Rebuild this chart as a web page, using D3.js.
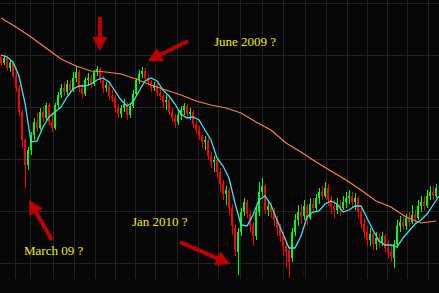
<!DOCTYPE html>
<html>
<head>
<meta charset="utf-8">
<script src="https://cdn.jsdelivr.net/npm/d3@7"></script>
<style>
body {margin:0; background:#000;}
</style>
</head>
<body>
<div class="chart"></div>
<script>
// daily candles, price in chart units
const openP = [243,237,242,232,237,224,212,188,160,135,
    150,165,178,172,188,182,195,178,172,195,
    205,212,208,216,210,222,228,212,206,220,
    222,216,228,231,220,212,215,204,202,192,
    186,192,196,185,194,206,220,226,229,222,
    218,212,215,207,204,198,200,188,182,178,
    185,190,194,186,188,176,170,164,158,160,
    144,138,140,128,116,106,110,92,72,48,
    68,88,98,86,74,64,88,108,114,90,
    94,88,80,72,64,54,50,42,68,80,
    88,84,94,82,96,92,102,108,104,112,
    100,94,90,96,92,98,102,104,98,102,
    88,76,68,60,66,56,62,58,64,52,
    48,42,56,74,78,74,82,78,85,82,
    94,98,94,104,108,104];
const closeP = [237,242,232,237,224,212,188,160,135,150,
    165,178,172,188,182,195,178,172,195,205,
    212,208,216,210,222,228,212,206,220,222,
    216,228,231,220,212,215,204,202,192,186,
    192,196,185,194,206,220,226,229,222,218,
    212,215,207,204,198,200,188,182,178,185,
    190,194,186,188,176,170,164,158,160,144,
    138,140,128,116,106,110,92,74,50,68,
    88,98,86,74,64,88,108,114,90,94,
    88,80,72,64,54,48,38,68,80,88,
    84,94,82,96,92,102,108,104,112,100,
    94,90,96,92,98,102,104,98,102,88,
    76,68,60,66,56,62,58,64,52,48,
    44,56,74,78,74,82,78,85,82,94,
    98,94,104,108,104,112];
const highP = [245,245,244,240,238,228,215,190,162,153,
    168,182,187,192,194,197,197,188,197,208,
    216,218,220,220,228,234,230,216,223,227,
    225,230,234,233,224,218,216,210,205,196,
    195,201,198,197,210,222,230,233,232,226,
    220,218,217,212,206,205,202,192,186,190,
    194,197,196,192,190,180,174,166,164,162,
    148,144,142,132,120,114,112,96,76,72,
    92,102,100,90,78,94,118,122,116,100,
    98,92,84,76,68,58,54,72,86,95,
    96,100,96,102,102,106,112,114,118,116,
    104,100,102,100,104,108,110,108,107,104,
    92,82,74,72,70,68,67,68,66,60,
    56,60,80,84,83,86,88,95,90,100,
    104,104,110,114,114,116];
const lowP = [234,235,230,228,222,208,184,152,112,130,
    145,160,168,170,178,180,174,168,170,192,
    202,204,205,206,208,218,208,202,204,214,
    212,214,224,217,207,208,200,198,188,182,
    182,188,180,182,192,204,216,222,220,214,
    208,209,204,200,192,190,185,178,172,175,
    180,185,182,180,172,166,160,152,150,140,
    132,128,122,108,100,95,85,65,44,25,
    64,84,82,68,54,60,84,104,86,84,
    82,74,64,58,44,32,22,38,64,74,
    76,80,74,80,86,88,96,100,102,94,
    86,82,86,84,90,92,96,92,90,82,
    72,62,54,54,50,50,52,54,48,42,
    38,32,52,68,70,70,74,76,76,80,
    88,90,92,100,100,102];

// moving averages: fast one every 2 bars, slow one every 5 bars
const fastMA = [245,243,238,224,197,158,159,173,183,188,193,203,211,214,214,216,220,222,218,209,
    200,194,198,209,219,222,219,210,204,196,186,182,183,180,170,160,142,134,122,97,
    75,74,85,100,104,95,80,66,52,52,64,83,88,89,96,99,96,88,90,94,
    94,82,70,59,55,55,53,62,69,76,80,86,95,104];
const slowMA = [282,273,263,252,241,234,229,228,226,221,215,210,205,199,195,
    192,187,178,170,157,148,138,129,120,110,99,93,83,77,79];

// month grid (bar positions) and price grid
const monthTicks = [5,10,17.7,24.7,31.7,38.3,45,51.7,59,66,72.7,80,87.3,94.3,101.7,108.7,115.7,122.3,129,135.7,142.7];
const priceTicks = [297,245,193,141,89,37];

const notes = [
    {text:'June 2009 ?', at:[71.3,254]},
    {text:'Jan 2010 ?', at:[44,74]},
    {text:'March 09 ?', at:[8,45]}
];
const arrows = [
    {from:[33.3,283], to:[33.3,249]},
    {from:[62.7,259], to:[49.3,239]},
    {from:[17.3,60], to:[9.7,100]},
    {from:[60,58], to:[76.7,36]}
];

const width = 439, height = 293;
const plotBottom = 279;

const svg = d3.select('.chart')
    .append('svg')
    .attr('width', width)
    .attr('height', height)
    .style('display', 'block')
    .style('background', '#060606');

const xScale = d3.scaleLinear()
    .domain([0, 146])
    .range([0, 438]);

const yScale = d3.scaleLinear()
    .domain([7, 300])
    .range([293, 0]);

// grid
svg.append('g')
    .selectAll('line')
    .data(monthTicks)
    .enter()
    .append('line')
    .attr('x1', d => Math.round(xScale(d)) + 0.5)
    .attr('x2', d => Math.round(xScale(d)) + 0.5)
    .attr('y1', 0)
    .attr('y2', plotBottom)
    .attr('stroke', '#222');

svg.append('g')
    .selectAll('line')
    .data(priceTicks)
    .enter()
    .append('line')
    .attr('x1', 0)
    .attr('x2', width)
    .attr('y1', d => Math.round(yScale(d)) + 0.5)
    .attr('y2', d => Math.round(yScale(d)) + 0.5)
    .attr('stroke', '#222');

// candles
const bars = d3.range(openP.length).map(i => ({
    i: i, o: openP[i], c: closeP[i], h: highP[i], l: lowP[i]
}));
const colour = d => d.c >= d.o ? '#00ff00' : '#ff0000';

const candles = svg.append('g').attr('shape-rendering', 'crispEdges');

candles.selectAll('.wick')
    .data(bars)
    .enter()
    .append('rect')
    .attr('class', 'wick')
    .attr('x', d => xScale(d.i) + 1)
    .attr('width', 1)
    .attr('y', d => yScale(d.h))
    .attr('height', d => yScale(d.l) - yScale(d.h))
    .attr('fill', colour);

candles.selectAll('.body')
    .data(bars)
    .enter()
    .append('rect')
    .attr('class', 'body')
    .attr('x', d => xScale(d.i))
    .attr('width', 2)
    .attr('y', d => yScale(Math.max(d.o, d.c)))
    .attr('height', d => Math.max(1, Math.abs(yScale(d.o) - yScale(d.c))))
    .attr('fill', colour);

// averages
const line = d3.line()
    .x(d => xScale(d[0]) + 1)
    .y(d => yScale(d[1]));

svg.append('path')
    .datum(slowMA.map((v, k) => [k * 5, v]))
    .attr('d', line)
    .attr('fill', 'none')
    .attr('stroke', '#ff8040')
    .attr('stroke-width', 1.2);

svg.append('path')
    .datum(fastMA.map((v, k) => [k * 2, v]))
    .attr('d', line)
    .attr('fill', 'none')
    .attr('stroke', '#33e6ff')
    .attr('stroke-width', 1.3);

// arrows
function arrowPath(a) {
    const x0 = xScale(a.from[0]), y0 = yScale(a.from[1]);
    const x1 = xScale(a.to[0]), y1 = yScale(a.to[1]);
    const len = Math.hypot(x1 - x0, y1 - y0);
    const ux = (x1 - x0) / len, uy = (y1 - y0) / len;
    const nx = -uy, ny = ux;
    const hl = 14, hw = 7.5, sw = 2;
    const bx = x1 - ux * hl, by = y1 - uy * hl;
    const pts = [
        [x0 + nx * sw, y0 + ny * sw],
        [bx + nx * sw, by + ny * sw],
        [bx + nx * hw, by + ny * hw],
        [x1, y1],
        [bx - nx * hw, by - ny * hw],
        [bx - nx * sw, by - ny * sw],
        [x0 - nx * sw, y0 - ny * sw]
    ];
    return 'M' + pts.map(p => p.join(',')).join('L') + 'Z';
}

svg.append('g')
    .selectAll('path')
    .data(arrows)
    .enter()
    .append('path')
    .attr('d', arrowPath)
    .attr('fill', '#c00000');

svg.append('g')
    .selectAll('text')
    .data(notes)
    .enter()
    .append('text')
    .attr('x', d => xScale(d.at[0]))
    .attr('y', d => yScale(d.at[1]))
    .attr('font-family', 'Liberation Serif, serif')
    .attr('font-size', 13)
    .attr('fill', '#eeee00')
    .text(d => d.text);
</script>
</body>
</html>
